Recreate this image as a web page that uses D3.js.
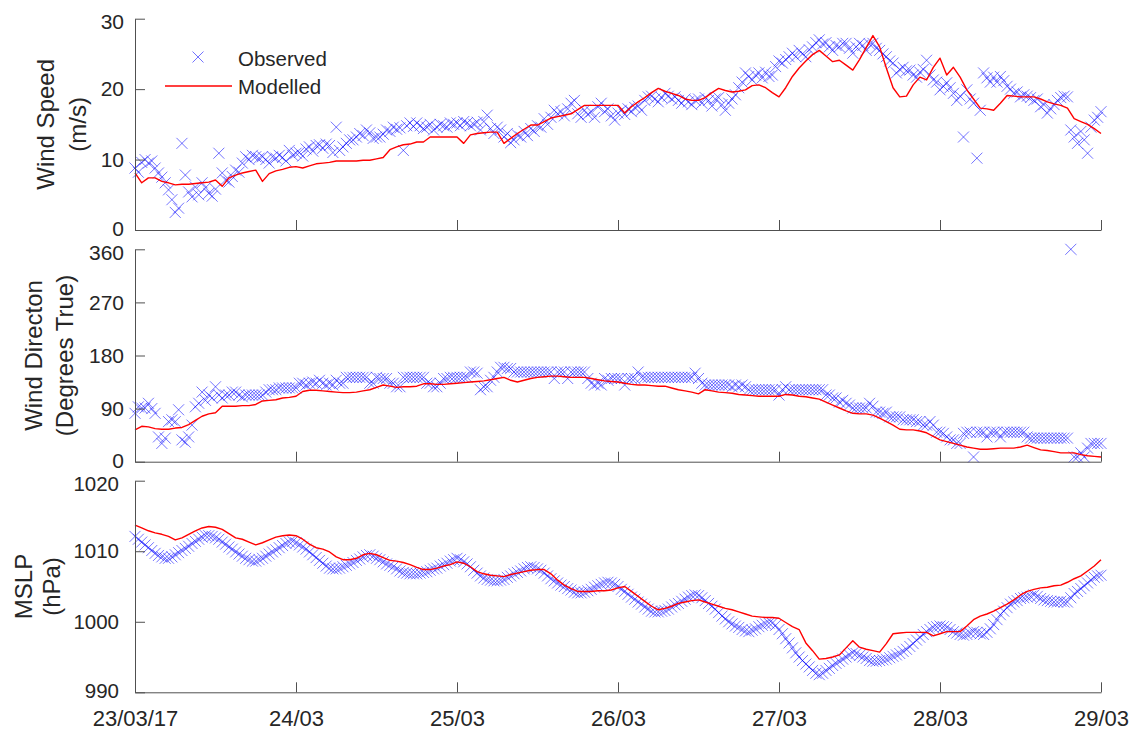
<!DOCTYPE html>
<html>
<head>
<meta charset="utf-8">
<script src="https://cdn.jsdelivr.net/npm/d3@7"></script>
<style>
  body { margin: 0; background: #ffffff; }
  svg text { font-family: "Liberation Sans", Arial, Helvetica, sans-serif; fill: #262626; }
</style>
</head>
<body>
<svg id="chart" width="1139" height="733"></svg>
<script>
// ---- Time axis ----
const startTime = new Date(2017, 2, 23, 0, 0);
const endTime = new Date(2017, 2, 29, 0, 0);
const obsStepMinutes = 30;   // observation interval
const modStepMinutes = 60;   // model output interval
const dayTicks = [23, 24, 25, 26, 27, 28, 29].map(d => new Date(2017, 2, d));
const dayTickLabels = ["23/03/17", "24/03", "25/03", "26/03", "27/03", "28/03", "29/03"];

// ---- Wind speed (m/s) ----
const speedObserved = [
  8.8, 8.2, 9.6, 10.0, 9.5, 9.8, 8.8, 8.1, 7.5, 6.7, 5.7, 4.3, 2.5, 3.1, 12.3, 7.8, 5.4, 4.7, 6.1, 5.0, 6.7, 6.0, 5.2, 4.8,
  5.8, 10.9, 8.1, 7.1, 6.8, 7.6, 8.5, 8.2, 9.5, 10.4, 10.0, 10.6, 10.4, 10.2, 10.4, 10.0, 9.5, 10.4, 10.2, 10.6, 10.3, 9.8, 11.3, 10.6,
  10.9, 11.0, 10.5, 11.5, 11.8, 11.2, 12.0, 12.1, 11.6, 12.2, 12.0, 11.0, 14.6, 11.3, 11.8, 12.3, 12.8, 12.8, 13.2, 13.7, 13.4, 14.2, 13.8, 13.0,
  13.2, 13.2, 13.6, 14.2, 14.0, 14.6, 14.3, 14.5, 11.3, 14.8, 15.2, 14.7, 15.2, 14.8, 14.4, 14.6, 15.0, 14.2, 14.6, 15.0, 14.8, 14.6, 15.2, 15.0,
  15.2, 14.8, 15.4, 15.2, 14.8, 15.0, 15.3, 14.2, 15.4, 16.3, 14.4, 13.7, 14.6, 14.2, 13.2, 13.7, 12.4, 12.8, 13.5, 13.2, 14.0, 13.4, 14.4, 14.0,
  14.8, 14.6, 15.8, 15.0, 16.0, 17.0, 16.5, 16.8, 16.2, 17.2, 18.0, 18.4, 16.5, 16.0, 17.0, 16.4, 16.8, 16.0, 17.5, 18.0, 16.8, 17.2, 16.2, 15.6,
  16.6, 17.0, 16.4, 17.2, 16.8, 17.4, 17.6, 17.0, 18.4, 18.9, 19.0, 18.6, 18.2, 18.8, 19.4, 19.0, 18.6, 18.9, 18.4, 18.0, 18.6, 18.2, 17.8, 18.4,
  18.6, 18.0, 18.8, 18.4, 17.6, 18.6, 18.8, 17.8, 17.0, 18.0, 18.6, 19.2, 20.2, 21.0, 22.3, 21.8, 21.3, 22.0, 22.3, 21.6, 22.4, 21.8, 22.0, 23.2,
  24.0, 23.7, 24.2, 24.6, 25.1, 24.6, 25.5, 25.0, 24.6, 25.6, 26.0, 26.6, 27.0, 26.4, 26.6, 26.0, 25.5, 26.2, 26.0, 26.5, 26.5, 25.8, 25.1, 26.0,
  26.5, 26.2, 25.5, 26.4, 26.5, 25.8, 25.5, 25.0, 24.6, 24.0, 23.7, 22.3, 22.8, 23.1, 22.6, 22.7, 22.0, 21.7, 22.4, 22.8, 24.1, 22.0, 21.3, 21.0,
  19.9, 20.4, 20.9, 20.2, 19.4, 18.4, 19.0, 13.2, 19.9, 18.6, 18.0, 10.2, 17.0, 22.3, 21.6, 21.0, 21.7, 21.0, 21.8, 21.2, 20.4, 20.0, 19.4, 19.6,
  18.9, 19.2, 19.0, 18.8, 18.4, 18.6, 17.5, 17.8, 16.6, 17.2, 17.8, 18.4, 18.8, 19.0, 18.9, 14.2, 13.2, 12.3, 14.0, 12.8, 10.9, 14.6, 15.6, 16.0,
  16.8
];
const speedModelled = [
  8.1, 6.7, 7.4, 7.4, 6.9, 6.7, 6.4, 6.5, 6.5, 6.6, 6.7, 6.8, 7.1, 6.2, 7.4, 7.8, 8.1, 8.3, 8.5, 6.9, 8.0, 8.4, 8.6, 8.9,
  9.0, 8.8, 9.1, 9.4, 9.5, 9.6, 9.8, 9.8, 9.8, 9.8, 9.9, 9.9, 10.1, 10.3, 11.4, 11.8, 12.1, 12.2, 12.5, 12.5, 13.2, 13.2, 13.2, 13.2,
  13.2, 12.3, 13.5, 13.7, 13.8, 13.9, 13.9, 12.3, 13.0, 13.7, 14.3, 14.9, 14.9, 15.4, 15.9, 16.1, 16.3, 16.5, 17.1, 17.7, 17.7, 17.7, 17.7, 17.7,
  17.7, 16.6, 17.5, 18.2, 18.8, 19.5, 20.1, 19.7, 19.4, 19.1, 18.6, 18.4, 18.4, 18.8, 19.5, 20.1, 19.8, 19.6, 19.7, 19.9, 20.5, 20.6, 20.2, 19.5,
  18.9, 20.2, 21.8, 23.0, 24.0, 24.9, 25.5, 24.7, 23.9, 24.1, 23.4, 22.7, 24.2, 25.9, 27.6, 26.0, 23.0, 20.2, 18.9, 19.0, 20.6, 21.7, 21.3, 23.1,
  24.4, 22.0, 23.1, 21.7, 19.9, 18.6, 17.3, 17.2, 17.0, 18.0, 19.1, 19.0, 18.9, 18.9, 18.9, 18.6, 18.2, 17.9, 17.7, 17.3, 15.8, 15.4, 15.0, 14.4,
  13.7
];

// ---- Wind direction (degrees true) ----
const directionObserved = [
  82, 93, 91, 91, 99, 90, 82, 42, 31, 40, 68, 71, 68, 88, 37, 33, 42, 62, 93, 99, 118, 104, 113, 108,
  127, 113, 108, 113, 113, 118, 118, 113, 110, 113, 113, 113, 113, 113, 113, 118, 122, 122, 122, 125, 125, 125, 125, 125,
  125, 133, 133, 130, 133, 135, 133, 138, 133, 130, 133, 130, 138, 133, 133, 143, 143, 143, 143, 143, 143, 143, 133, 133,
  143, 141, 141, 141, 133, 133, 127, 127, 143, 143, 143, 143, 143, 143, 143, 133, 133, 127, 127, 133, 141, 141, 143, 143,
  143, 143, 143, 143, 152, 152, 150, 122, 127, 127, 138, 143, 152, 160, 160, 158, 158, 152, 152, 152, 152, 152, 152, 152,
  152, 152, 152, 152, 152, 141, 152, 152, 152, 141, 152, 152, 152, 152, 152, 141, 133, 130, 133, 130, 141, 138, 141, 141,
  141, 141, 130, 141, 141, 141, 152, 143, 143, 143, 143, 143, 143, 143, 143, 143, 143, 143, 143, 143, 143, 143, 143, 150,
  141, 133, 130, 130, 130, 130, 130, 130, 130, 130, 127, 130, 127, 130, 127, 122, 122, 122, 122, 122, 122, 122, 122, 122,
  113, 122, 127, 122, 122, 122, 122, 122, 122, 122, 122, 122, 122, 122, 113, 113, 108, 108, 101, 104, 99, 96, 91, 91,
  91, 91, 91, 99, 94, 84, 84, 82, 84, 76, 76, 76, 76, 71, 71, 71, 71, 68, 68, 62, 62, 68, 62, 50,
  50, 48, 42, 37, 37, 31, 31, 48, 50, 50, 8, 50, 50, 50, 42, 50, 50, 50, 42, 50, 50, 50, 50, 50,
  50, 50, 42, 40, 40, 40, 40, 40, 40, 40, 40, 40, 40, 40, 40, 360, 8, 8, 15, 8, 23, 31, 31, 31,
  31
];
const directionModelled = [
  54, 60, 59, 56, 55, 55, 57, 58, 63, 70, 77, 81, 83, 94, 94, 94, 95, 95, 97, 103, 104, 105, 108, 109,
  111, 119, 121, 121, 120, 119, 118, 117, 117, 118, 120, 122, 126, 130, 128, 126, 127, 127, 128, 132, 132, 131, 131, 132,
  133, 134, 135, 136, 137, 139, 141, 143, 138, 135, 138, 141, 143, 144, 145, 145, 144, 143, 143, 143, 141, 139, 137, 136,
  135, 133, 131, 130, 130, 129, 128, 128, 125, 122, 120, 118, 115, 122, 120, 118, 117, 116, 114, 113, 112, 111, 111, 111,
  111, 114, 113, 111, 110, 108, 106, 101, 96, 91, 86, 82, 81, 81, 79, 74, 68, 62, 55, 54, 54, 52, 49, 43,
  37, 34, 31, 28, 25, 23, 21, 21, 22, 23, 23, 23, 25, 28, 24, 20, 19, 17, 15, 15, 15, 12, 10, 9,
  8
];

// ---- Mean sea level pressure (hPa) ----
const pressureObserved = [
  1012.1, 1011.7, 1011.3, 1010.9, 1010.5, 1010.1, 1009.7, 1009.4, 1009.2, 1009.0, 1009.0, 1009.2, 1009.5, 1009.8, 1010.1, 1010.4,
  1010.7, 1011.1, 1011.4, 1011.7, 1012.0, 1012.2, 1012.2, 1012.1, 1011.9, 1011.7, 1011.3, 1011.0, 1010.6, 1010.3, 1009.9, 1009.6,
  1009.3, 1009.0, 1008.8, 1008.6, 1008.6, 1008.8, 1009.0, 1009.3, 1009.6, 1009.9, 1010.2, 1010.5, 1010.8, 1011.1, 1011.3, 1011.4,
  1011.2, 1010.9, 1010.6, 1010.3, 1009.9, 1009.5, 1009.1, 1008.7, 1008.3, 1007.9, 1007.6, 1007.5, 1007.5, 1007.6, 1007.8, 1008.0,
  1008.2, 1008.4, 1008.7, 1008.9, 1009.2, 1009.4, 1009.5, 1009.3, 1009.0, 1008.8, 1008.5, 1008.2, 1008.0, 1007.8, 1007.5, 1007.2,
  1007.0, 1006.9, 1006.8, 1006.8, 1006.8, 1006.9, 1007.0, 1007.1, 1007.3, 1007.5, 1007.6, 1007.9, 1008.1, 1008.3, 1008.6, 1008.8,
  1009.0, 1008.8, 1008.5, 1008.2, 1007.8, 1007.3, 1006.9, 1006.5, 1006.2, 1006.0, 1005.9, 1005.8, 1005.8, 1005.9, 1006.0, 1006.3,
  1006.5, 1006.8, 1007.0, 1007.2, 1007.5, 1007.7, 1007.8, 1007.7, 1007.5, 1007.3, 1006.9, 1006.5, 1006.1, 1005.8, 1005.5, 1005.2,
  1005.0, 1004.7, 1004.5, 1004.2, 1004.1, 1004.1, 1004.2, 1004.4, 1004.6, 1004.9, 1005.1, 1005.3, 1005.5, 1005.6, 1005.5, 1005.3,
  1005.0, 1004.6, 1004.3, 1003.9, 1003.5, 1003.2, 1002.8, 1002.5, 1002.1, 1001.8, 1001.5, 1001.4, 1001.4, 1001.5, 1001.6, 1001.8,
  1002.1, 1002.4, 1002.6, 1002.9, 1003.2, 1003.5, 1003.7, 1003.8, 1003.7, 1003.4, 1003.0, 1002.6, 1002.2, 1001.8, 1001.3, 1000.8,
  1000.4, 1000.0, 999.7, 999.4, 999.2, 998.9, 998.7, 998.6, 998.8, 999.0, 999.3, 999.5, 999.7, 999.8, 999.8, 999.5,
  998.9, 998.3, 997.6, 997.0, 996.3, 995.6, 995.0, 994.5, 994.0, 993.6, 993.1, 992.7, 992.5, 992.7, 993.1, 993.4,
  993.8, 994.1, 994.4, 994.7, 995.0, 995.3, 995.6, 995.5, 995.2, 995.0, 994.8, 994.5, 994.4, 994.4, 994.5, 994.6,
  994.7, 994.9, 995.1, 995.3, 995.5, 995.8, 996.1, 996.5, 996.9, 997.4, 997.8, 998.2, 998.6, 998.9, 999.2, 999.3,
  999.4, 999.3, 999.2, 998.9, 998.6, 998.4, 998.2, 998.1, 998.2, 998.4, 998.6, 998.5, 998.3, 998.2, 998.5, 999.0,
  999.6, 1000.3, 1001.0, 1001.5, 1002.0, 1002.5, 1002.8, 1003.0, 1003.3, 1003.4, 1003.5, 1003.6, 1003.8, 1003.6, 1003.3, 1003.1,
  1003.0, 1002.9, 1002.8, 1002.8, 1002.9, 1002.8, 1002.8, 1003.4, 1004.0, 1004.3, 1004.7, 1005.1, 1005.5, 1005.9, 1006.3, 1006.5,
  1006.6
];
const pressureModelled = [
  1013.7, 1013.3, 1012.9, 1012.6, 1012.4, 1012.1, 1011.6, 1011.9, 1012.4, 1012.9, 1013.3, 1013.5, 1013.4, 1013.1, 1012.5, 1011.9,
  1011.7, 1011.3, 1010.9, 1011.2, 1011.6, 1012.0, 1012.2, 1012.3, 1012.2, 1011.7, 1011.0, 1010.5, 1010.3, 1009.9, 1009.2, 1008.8,
  1008.8, 1009.0, 1009.5, 1009.7, 1009.5, 1009.1, 1008.7, 1008.6, 1008.4, 1008.1, 1007.7, 1007.4, 1007.4, 1007.6, 1007.9, 1008.1,
  1008.5, 1008.3, 1007.8, 1007.1, 1006.8, 1006.6, 1006.5, 1006.4, 1006.7, 1006.9, 1007.1, 1007.3, 1007.4, 1007.4, 1006.8, 1005.9,
  1005.2, 1004.7, 1004.3, 1004.3, 1004.3, 1004.4, 1004.4, 1004.5, 1004.8, 1005.0, 1004.3, 1003.6, 1002.9, 1002.2, 1001.7, 1001.9,
  1002.2, 1002.6, 1002.8, 1003.0, 1003.1, 1002.8, 1002.5, 1002.2, 1001.9, 1001.7, 1001.4, 1001.1, 1000.8, 1000.7, 1000.6, 1000.6,
  1000.5, 999.9, 999.3, 998.9, 997.0, 995.9, 994.7, 994.8, 995.0, 995.3, 996.3, 997.3, 996.4, 996.1, 995.9, 995.7,
  996.9, 998.3, 998.4, 998.5, 998.5, 998.5, 998.5, 998.0, 998.3, 998.6, 998.6, 998.6, 999.4, 1000.3, 1000.8, 1001.1,
  1001.5, 1002.0, 1002.5, 1003.1, 1003.8, 1004.3, 1004.6, 1004.8, 1004.9, 1005.1, 1005.2, 1005.6, 1006.1, 1006.5, 1007.2, 1007.9,
  1008.8
];

// ---- Panel definitions ----
const panels = [
  { top: 18.7, bottom: 230, domain: [0, 30], ticks: [0, 10, 20, 30],
    label: ["Wind Speed", "(m/s)"], labelX: [53.5, 85.7],
    observed: speedObserved, modelled: speedModelled,
    tickFont: 21, tickPad: 11, showDates: false, legend: true },
  { top: 249.3, bottom: 461.7, domain: [0, 360], ticks: [0, 90, 180, 270, 360],
    label: ["Wind Directon", "(Degrees True)"], labelX: [41.7, 73.3],
    observed: directionObserved, modelled: directionModelled,
    tickFont: 21, tickPad: 11, showDates: false, legend: false },
  { top: 480.7, bottom: 692.3, domain: [990, 1020], ticks: [990, 1000, 1010, 1020],
    label: ["MSLP", "(hPa)"], labelX: [31.7, 60],
    observed: pressureObserved, modelled: pressureModelled,
    tickFont: 20.5, tickPad: 16, showDates: true, legend: false }
];

const obsColor = "#0000ff";
const modColor = "#ff0000";
const axisColor = "#505050";
const crossPath = "M-5.5,-5.5L5.5,5.5M-5.5,5.5L5.5,-5.5";

const svg = d3.select("#chart");
const x = d3.scaleTime().domain([startTime, endTime]).range([135, 1101]);
const obsTime = i => d3.timeMinute.offset(startTime, i * obsStepMinutes);
const modTime = i => d3.timeMinute.offset(startTime, i * modStepMinutes);

panels.forEach(p => {
  const y = d3.scaleLinear().domain(p.domain).range([p.bottom, p.top]);
  const g = svg.append("g");

  // observed values as crosses
  g.append("g")
    .selectAll("path")
    .data(p.observed)
    .join("path")
    .attr("d", crossPath)
    .attr("transform", (v, i) => `translate(${x(obsTime(i))},${y(v)})`)
    .attr("fill", "none")
    .attr("stroke", obsColor)
    .attr("stroke-opacity", 0.55)
    .attr("stroke-width", 1);

  // modelled series as a line
  const line = d3.line()
    .x((v, i) => x(modTime(i)))
    .y(v => y(v));
  g.append("path")
    .datum(p.modelled)
    .attr("d", line)
    .attr("fill", "none")
    .attr("stroke", modColor)
    .attr("stroke-width", 1.4)
    .attr("stroke-linejoin", "round");

  // y axis, ticks pointing inward
  const gy = g.append("g")
    .attr("transform", "translate(135,0)")
    .call(d3.axisLeft(y).tickValues(p.ticks).tickFormat(d3.format("d"))
      .tickSizeInner(-10).tickSizeOuter(0).tickPadding(p.tickPad))
    .attr("font-family", null).attr("font-size", null);
  gy.selectAll("text").style("font-size", p.tickFont + "px")
    .attr("y", d => d === p.domain[1] ? 3 : (d === p.domain[0] ? -1 : 0));

  // x axis, ticks pointing inward
  const gx = g.append("g")
    .attr("transform", `translate(0,${p.bottom})`)
    .call(d3.axisBottom(x).tickValues(dayTicks).tickSizeInner(-10).tickSizeOuter(0).tickPadding(18)
      .tickFormat((d, i) => p.showDates ? dayTickLabels[i] : ""))
    .attr("font-family", null).attr("font-size", null);
  gx.selectAll("text").style("font-size", "22px");

  [gx, gy].forEach(a => {
    a.select(".domain").attr("stroke", axisColor).attr("stroke-width", 1);
    a.selectAll(".tick line").attr("stroke", axisColor).attr("stroke-width", 1);
  });

  // two-line axis title
  p.label.forEach((t, k) => {
    g.append("text")
      .attr("transform", `translate(${p.labelX[k]},${(p.top + p.bottom) / 2}) rotate(-90)`)
      .attr("text-anchor", "middle")
      .style("font-size", "24px")
      .text(t);
  });

  if (p.legend) {
    const lg = g.append("g");
    lg.append("path")
      .attr("d", crossPath)
      .attr("transform", "translate(198,57)")
      .attr("fill", "none")
      .attr("stroke", obsColor)
      .attr("stroke-opacity", 0.55);
    lg.append("text").attr("x", 238).attr("y", 66).style("font-size", "20.5px").text("Observed");
    lg.append("line").attr("x1", 165).attr("x2", 232).attr("y1", 86).attr("y2", 86)
      .attr("stroke", modColor).attr("stroke-width", 1.4);
    lg.append("text").attr("x", 238).attr("y", 94).style("font-size", "20.5px").text("Modelled");
  }
});
</script>
</body>
</html>
